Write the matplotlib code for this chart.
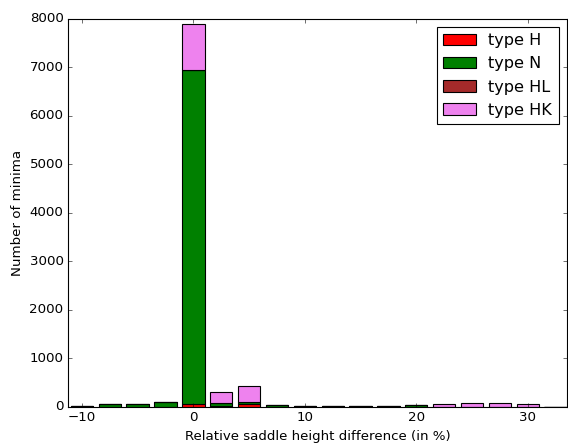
import matplotlib
matplotlib.use("Agg")
import matplotlib.pyplot as plt
import numpy as np

plt.style.use("classic")

# bin centres of the saddle height histogram (in %)
centers = [-10, -7.5, -5, -2.5, 0, 2.5, 5, 7.5, 10, 12.5, 15, 17.5,
           20, 22.5, 25, 27.5, 30, 32.5]

# counts per minimum type, stacked bottom to top
type_h  = [0, 0, 0, 0, 50, 15, 55, 0, 0, 0, 0, 0, 0, 0, 0, 0, 0, 0]
type_n  = [15, 60, 50, 90, 6890, 55, 30, 25, 8, 5, 5, 10, 25, 0, 0, 0, 0, 0]
type_hl = [0, 0, 0, 0, 10, 10, 10, 0, 0, 0, 0, 0, 0, 0, 0, 0, 0, 0]
type_hk = [0, 0, 0, 0, 935, 215, 335, 0, 0, 0, 0, 0, 5, 50, 75, 75, 55, 0]

series = [("type H", type_h, "red"),
          ("type N", type_n, "green"),
          ("type HL", type_hl, "brown"),
          ("type HK", type_hk, "violet")]

fig = plt.figure(figsize=(7.1, 5.5625), dpi=80, facecolor="white")
ax = fig.add_axes([0.1197, 0.0865, 0.878, 0.871])

bottom = np.zeros(len(centers))
for label, counts, color in series:
    counts = np.array(counts, dtype=float)
    ax.bar(centers, counts, width=2.0, bottom=bottom, color=color,
           edgecolor="black", linewidth=1.0, align="center", label=label)
    bottom += counts

ax.set_xlim(-11.25, 33.5)
ax.set_ylim(0, 8000)
ax.set_xticks([-10, 0, 10, 20, 30])
ax.set_yticks(np.arange(0, 8001, 1000))
ax.tick_params(labelsize=12)

ax.set_xlabel("Relative saddle height difference (in %)", fontsize=12)
ax.set_ylabel("Number of minima", fontsize=12)
ax.legend(loc="upper right", fontsize=14.5)

fig.savefig("out.png", dpi=80, facecolor="white")
